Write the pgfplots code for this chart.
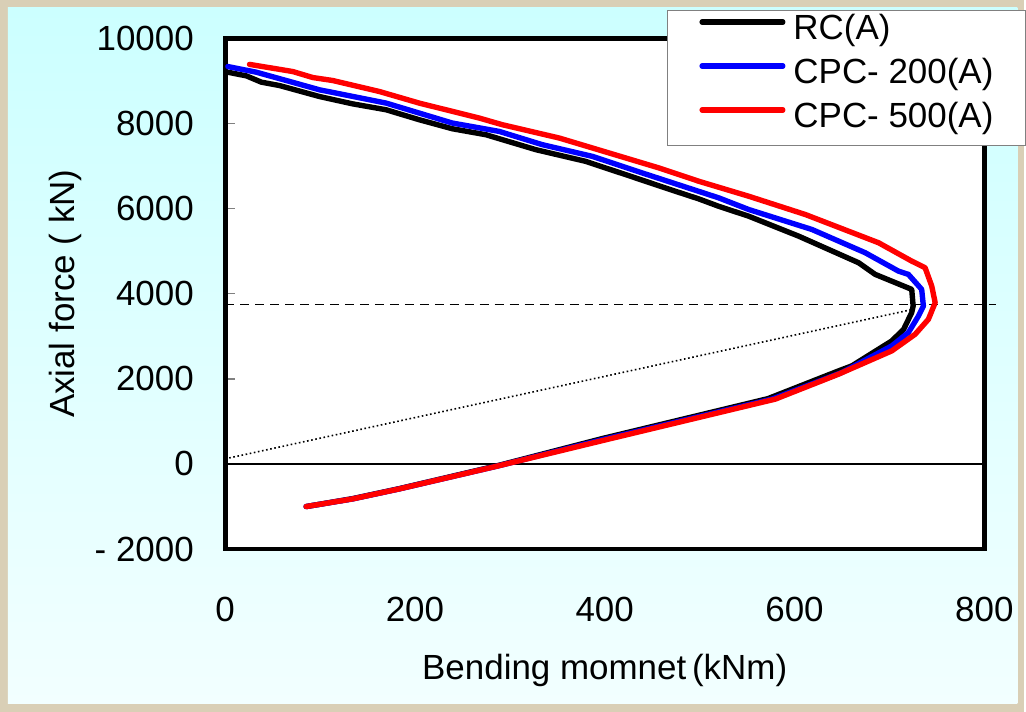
\documentclass[border=0pt]{standalone}
\usepackage{pgfplots}
\pgfplotsset{compat=1.18}
\usepackage{fontspec}
\setmainfont{Liberation Sans}

\definecolor{beige}{RGB}{217,207,182}
\definecolor{cyantop}{RGB}{204,255,255}
\definecolor{cyanbot}{RGB}{242,255,255}
\definecolor{xlblue}{RGB}{0,0,255}
\definecolor{xlred}{RGB}{255,0,0}

% bending moment (kNm), axial force (kN)
\pgfplotstableread{
M N
2.6 9207
22.3 9121
38.1 8973
57.3 8893
99.4 8635
134 8464
169.6 8324
204.6 8089
239.3 7878
274.8 7737
327.4 7386
380 7111
422 6800
474.6 6408
499 6230
520 6056
551.8 5822
604.4 5353
667.5 4729
685 4455
723.5 4103
725 3712
723.5 3557
715 3165
702.5 2891
660.4 2305
646.5 2188
572 1535
398 600
288.8 -30
183.6 -580
134.4 -815
85.4 -1001
}\rca

\pgfplotstableread{
M N
2.9 9339
32.8 9207
64.4 9011
99.4 8793
169.6 8481
239.3 8012
288.8 7815
334.3 7503
386.9 7229
439.5 6839
520.2 6253
551.8 5979
618.4 5510
674.5 4964
709.5 4532
720 4455
734 4103
735.8 3712
730.6 3477
720 3088
702.5 2774
650 2150
576.3 1524
401 590
288.8 -40
183.6 -586
134.4 -821
85.4 -1001
}\cpctwo

\pgfplotstableread{
M N
25.7 9390
71.3 9222
92.4 9081
113.4 9011
162.5 8753
204.6 8480
267.7 8129
292.2 7972
352 7660
404.6 7308
457.1 6957
499.2 6643
551.8 6291
611.4 5862
688.6 5198
723.5 4767
737.6 4612
744.6 4181
748.2 3791
741.1 3400
727.1 3048
702.5 2657
646.4 2110
579.8 1524
404.5 586
288.8 -40
183.6 -586
134.4 -821
85.4 -1001
}\cpcfive

\begin{document}
\begin{tikzpicture}[x=0.5pt,y=0.5pt]
\fill[beige] (0,0) rectangle (1026,713);
\shade[top color=cyantop, bottom color=cyanbot] (8,8) rectangle (1019,705);
\begin{axis}[
  at={(112.75pt,81.5pt)}, anchor=south west,
  scale only axis, width=380.25pt, height=255.75pt,
  xmin=0, xmax=800, ymin=-2000, ymax=10000,
  clip=false,
  axis background/.style={fill=white},
  axis line style={line width=2.4pt},
  font=\fontsize{17.5}{21}\selectfont,
  scaled ticks=false,
  xtick={0,200,400,600,800},
  xticklabels={0,200,400,600,800},
  xtick style={draw=none},
  ytick={-2000,0,2000,4000,6000,8000,10000},
  yticklabels={- 2000,0,2000,4000,6000,8000,10000},
  ytick pos=left, tick align=inside,
  major tick length=5pt,
  ytick style={line width=0.7pt},
  yticklabel style={inner sep=0pt, anchor=east, xshift=-15.5pt},
  xticklabel style={inner sep=0pt, anchor=north, yshift=-24pt},
  xlabel={Bending momnet\,(kNm)},
  ylabel={Axial force ( kN)},
  xlabel style={at={(axis description cs:0.5,-0.2385)}, anchor=center},
  ylabel style={at={(axis description cs:-0.2097,0.5)}, anchor=center},
  legend image code/.code={\draw[#1, line width=2.6pt, line cap=round] (0pt,6pt) -- (40.5pt,6pt);},
  legend style={at={(axis description cs:0.5819,1.0557)}, anchor=north west,
    draw=gray, fill=white, line width=0.6pt,
    inner xsep=16pt, inner ysep=2pt, row sep=2.5pt,
    nodes={inner sep=0pt, text height=12.5pt, text depth=7pt},
    /tikz/every odd column/.append style={column sep=4pt}},
  legend cell align=left,
]
\addplot[black, line width=0.9pt, forget plot] coordinates {(0,0) (800,0)};
\addplot[black, line width=0.8pt, dash pattern=on 4.5pt off 3pt, forget plot] coordinates {(0,3750) (812,3750)};
\addplot[black, line width=0.8pt, dash pattern=on 0.8pt off 1.3pt, forget plot] coordinates {(0,120) (722,3620)};
\addplot[black, line width=2.7pt, line join=round, line cap=round] table[x=M,y=N] {\rca};
\addplot[xlblue, line width=2.7pt, line join=round, line cap=round] table[x=M,y=N] {\cpctwo};
\addplot[xlred, line width=2.7pt, line join=round, line cap=round] table[x=M,y=N] {\cpcfive};
\legend{RC(A), CPC- 200(A), CPC- 500(A)}
\end{axis}
\end{tikzpicture}
\end{document}
